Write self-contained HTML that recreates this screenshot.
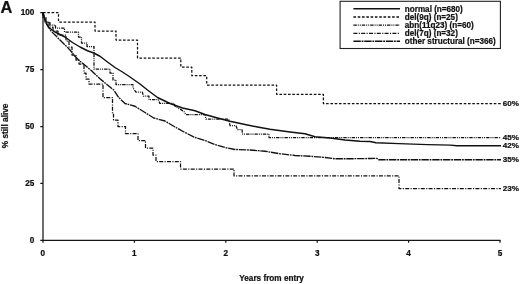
<!DOCTYPE html>
<html><head><meta charset="utf-8">
<style>
html,body{margin:0;padding:0;background:#fff;}
svg{display:block;}
text{font-family:"Liberation Sans",Arial,Helvetica,sans-serif;font-weight:bold;fill:#111;stroke:#111;stroke-width:0.22px;}
</style></head>
<body>
<svg width="520" height="284" viewBox="0 0 520 284">
<rect width="520" height="284" fill="#fff"/>
<!-- panel letter -->
<text x="0.6" y="12.6" font-size="16.4" stroke-width="0.6">A</text>
<!-- axes -->
<g stroke="#151515" stroke-width="1.25" fill="none">
<path d="M43,12.5V240.3"/>
<path d="M42.5,240.3H500.5"/>
<path d="M40.3,12.7H43M40.3,69.6H43M40.3,126.5H43M40.3,183.4H43M40.3,240.3H43"/>
<path d="M43,240.3V242.8M134.4,240.3V242.8M225.8,240.3V242.8M317.2,240.3V242.8M408.6,240.3V242.8M500,240.3V242.8"/>
</g>
<!-- y tick labels -->
<g font-size="8.2" text-anchor="end">
<text x="34.3" y="15.2">100</text>
<text x="34.3" y="72.1">75</text>
<text x="34.3" y="129">50</text>
<text x="34.3" y="185.9">25</text>
<text x="34.3" y="242.8">0</text>
</g>
<!-- x tick labels -->
<g font-size="8.2" text-anchor="middle">
<text x="42.7" y="256.3">0</text>
<text x="134.4" y="256.3">1</text>
<text x="225.8" y="256.3">2</text>
<text x="317.2" y="256.3">3</text>
<text x="408.6" y="256.3">4</text>
<text x="500" y="256.3">5</text>
</g>
<text x="271.6" y="281.3" font-size="8.2" text-anchor="middle">Years from entry</text>
<text transform="translate(7.8,125.9) rotate(-90)" font-size="8.3" text-anchor="middle">% still alive</text>
<!-- curves -->
<g fill="none" stroke="#111" stroke-linejoin="round">
<!-- del(9q) -->
<path stroke-width="1.25" stroke-dasharray="2.6 1.7" d="M43,12.5H58.5V22H95V31H116V40H137.5V58H180.8V67H191.8V75.7H206.7V85H276.6V94.3H323.4V103.5H501"/>
<!-- abn(11q23) -->
<path stroke-width="1.25" stroke-dasharray="3.4 1 1 1 1 1" d="M43,12.5V18H45V22H50V25H55.5V28H64.5V32H78.5V37H81.5V43H87V46.5H94V69H110V73H113V80H116V84.5H133V88L136,92H142.3L143.4,96H149V99.7H158.5L159.7,103.3H174L175,106.25L183.75,111.25L186,114.7H205L206,119H228.75L230,125.7H236L237.5,129.7H242L242.5,134H269V137.6H501"/>
<!-- del(7q) -->
<path stroke-width="1.25" stroke-dasharray="4 1.4 1.1 1.3" d="M43,12.5V17H46V22H49V27H53V31H58V35H66V41H69V47H72V55H76V60H79V64H84V73H86V79H89V84H103V97.5H112.5V114H113.5V120H118V126.5H125.5V133.5H138V140.5H145.5V148H153V155H156V161.5H180.5V169H234V175.75H399V188.5H501"/>
<!-- other structural -->
<path stroke-width="1.35" d="M43,12.5L46.25,23.75L51.25,31.25L57.5,37.5L65,45L70,50L75,56.25L80,61.25L86.25,66.25L91.25,70.5L100,78.75L107.5,85L113.75,90L118.75,97.5L125,103.5L135,106.25L145,112.5L153.75,118L165,121L175,127L185,132.5L195,137.5L205,140.5L215,144.5L225,147.5L235,149.5L250,150L265,151.25L280,153.75L295,155.5L310,156.25L325,157.5L335,158.75L350,158.75L370,158.5L377,158.4L378.6,159.7H501" stroke-dasharray="7.4 0.8 1.8 0.8"/>
<!-- normal -->
<path stroke-width="1.45" d="M43,12.5L45,20L48.75,27.5L55,32L60,34.5L65,37L72.5,42.5L80,47L87.5,50.75L93.75,53L100,56.25L107.5,62L115,67.5L122.5,72L130,77L140,84L147.5,90L157.5,97.5L170,103.5L182.5,108L195,110.75L205,114.5L217.5,118L230,121.25L245,124.5L257.5,127L270,129.25L290,132L305,133.75L315,136.75L330,138L345,140L360,141.25L370,141.5L376,142.8L399,143.6L427.7,144.6L450.8,145.1L456.5,145.7H501"/>
</g>
<!-- end labels -->
<g font-size="8.1">
<text x="502.8" y="106.4">60%</text>
<text x="502.8" y="139.6">45%</text>
<text x="502.8" y="147.6">42%</text>
<text x="502.8" y="162.2">35%</text>
<text x="502.8" y="190.7">23%</text>
</g>
<!-- legend -->
<rect x="340.1" y="1.3" width="160.3" height="47.2" fill="#fff" stroke="#222" stroke-width="1.1"/>
<g fill="none" stroke="#111">
<path stroke-width="1.6" d="M353.4,8.7H400"/>
<path stroke-width="1.3" stroke-dasharray="2.6 1.7" d="M353.4,17H400"/>
<path stroke-width="1.3" stroke-dasharray="3.4 1 1 1 1 1" d="M353.4,25.2H400"/>
<path stroke-width="1.3" stroke-dasharray="4 1.4 1.1 1.3" d="M353.4,33.3H399"/>
<path stroke-width="1.4" stroke-dasharray="7.4 0.8 1.8 0.8" d="M353.4,41.3H400"/>
</g>
<g font-size="8.15">
<text x="404.8" y="11.6">normal (n=680)</text>
<text x="404.8" y="19.8">del(9q) (n=25)</text>
<text x="404.8" y="28">abn(11q23) (n=60)</text>
<text x="404.8" y="36.1">del(7q) (n=32)</text>
<text x="404.8" y="44.1">other structural (n=366)</text>
</g>
</svg>
</body></html>
